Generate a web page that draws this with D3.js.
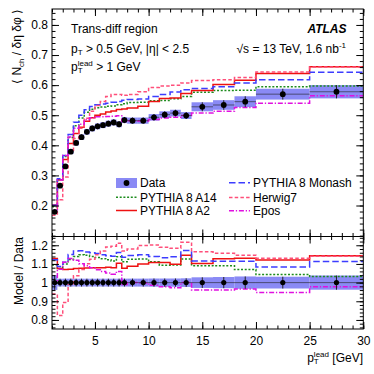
<!DOCTYPE html>
<html><head><meta charset="utf-8">
<script src="https://cdn.jsdelivr.net/npm/d3@7"></script>
<style>
body{margin:0;background:#fff}
text{font-family:"Liberation Sans",Arial,Helvetica,sans-serif;fill:#000}
</style>
</head><body>
<svg id="c" width="374" height="374"></svg>
<script>
// ---------------- data ----------------
const edges = [1,1.5,2,2.5,3,3.5,4,4.5,5,5.5,6,6.5,7,7.5,8,9,10,11,12,13,14,16,18,20,25,30];
const dataVals = [0.179,0.266,0.330,0.379,0.408,0.427,0.445,0.456,0.463,0.467,0.472,0.476,0.470,0.484,0.482,0.482,0.493,0.502,0.507,0.499,0.528,0.534,0.545,0.570,0.578];
const dataErr = [0.007,0.0055,0.007,0.008,0.0085,0.009,0.0093,0.0095,0.0097,0.0098,0.0099,0.0100,0.0099,0.0102,0.0103,0.0103,0.0108,0.0110,0.0112,0.0115,0.015,0.016,0.018,0.018,0.022];
const a14 = [0.196,0.286,0.363,0.426,0.465,0.491,0.510,0.520,0.525,0.527,0.530,0.531,0.535,0.538,0.542,0.543,0.548,0.549,0.555,0.562,0.576,0.582,0.583,0.595,0.597];
const a2 = [0.202,0.286,0.353,0.406,0.439,0.460,0.480,0.492,0.500,0.504,0.511,0.514,0.519,0.521,0.524,0.530,0.546,0.556,0.557,0.572,0.582,0.602,0.616,0.639,0.661];
const monash = [0.201,0.289,0.366,0.436,0.477,0.500,0.518,0.529,0.535,0.537,0.540,0.543,0.546,0.550,0.552,0.554,0.562,0.569,0.577,0.585,0.589,0.595,0.607,0.618,0.643];
const herwig = [0.168,0.219,0.295,0.375,0.423,0.457,0.490,0.513,0.532,0.546,0.562,0.569,0.569,0.566,0.569,0.578,0.592,0.597,0.600,0.607,0.615,0.618,0.625,0.644,0.660];
const epos = [0.179,0.285,0.366,0.428,0.457,0.470,0.485,0.492,0.495,0.495,0.496,0.497,0.498,0.479,0.482,0.481,0.486,0.491,0.493,0.499,0.507,0.513,0.526,0.540,0.565];
const xTicks = [5,10,15,20,25,30];
const yTicksTop = [0.2,0.3,0.4,0.5,0.6,0.7,0.8];
const yTicksRatio = [0.8,0.9,1,1.1,1.2];
const legendLabels = ["Data","PYTHIA 8 A14","PYTHIA 8 A2","PYTHIA 8 Monash","Herwig7","Epos"];

// ---------------- setup ----------------
const svg = d3.select("#c");
const L = 52, R = 363.3, T1 = 9, B1 = 236.5, T2 = 236.5, B2 = 329;
const x = d3.scaleLinear().domain([1,30]).range([L,R]);
const yT = d3.scaleLinear().domain([0.097,0.853]).range([B1,T1]);
const yR = d3.scaleLinear().domain([0.7515,1.247]).range([B2,T2]);

const models = [
  {vals:a14, color:"#1c8c1c", dash:"2,1.7", w:1.5},
  {vals:a2, color:"#ee1111", dash:null, w:1.5},
  {vals:monash, color:"#3d3dff", dash:"6.5,3", w:1.5},
  {vals:herwig, color:"#ff4f7a", dash:"3.5,2.2", w:1.5},
  {vals:epos, color:"#e010e0", dash:"5,1.8,1.3,1.8", w:1.5}
];
const bandColor = "#8a8af5";

const defs = svg.append("defs");
defs.append("clipPath").attr("id","clipT").append("rect").attr("x",L).attr("y",T1).attr("width",R-L).attr("height",B1-T1);
defs.append("clipPath").attr("id","clipR").append("rect").attr("x",L).attr("y",T2).attr("width",R-L).attr("height",B2-T2);

function stepPts(vals){
  const p=[];
  vals.forEach((v,i)=>{p.push([edges[i],v]);p.push([edges[i+1],v]);});
  return p;
}

// ---------------- top panel ----------------
const gT = svg.append("g").attr("clip-path","url(#clipT)");
gT.selectAll("rect.band").data(dataVals).join("rect")
  .attr("x",(d,i)=>x(edges[i])).attr("width",(d,i)=>x(edges[i+1])-x(edges[i]))
  .attr("y",(d,i)=>yT(d+dataErr[i])).attr("height",(d,i)=>yT(d-dataErr[i])-yT(d+dataErr[i]))
  .attr("fill",bandColor);
models.forEach(m=>{
  const line = d3.line().x(d=>x(d[0])).y(d=>yT(d[1]));
  gT.append("path").attr("d",line(stepPts(m.vals))).attr("fill","none")
    .attr("stroke",m.color).attr("stroke-width",m.w).attr("stroke-dasharray",m.dash);
});
gT.selectAll("line.xe").data(dataVals).join("line")
  .attr("x1",(d,i)=>x(edges[i])).attr("x2",(d,i)=>x(edges[i+1]))
  .attr("y1",d=>yT(d)).attr("y2",d=>yT(d)).attr("stroke","#222").attr("stroke-opacity",0.6).attr("stroke-width",1);
gT.selectAll("line.ye").data(dataVals).join("line")
  .attr("x1",(d,i)=>x((edges[i]+edges[i+1])/2)).attr("x2",(d,i)=>x((edges[i]+edges[i+1])/2))
  .attr("y1",(d,i)=>yT(d+dataErr[i])).attr("y2",(d,i)=>yT(d-dataErr[i])).attr("stroke","#222").attr("stroke-width",1);
gT.selectAll("circle").data(dataVals).join("circle")
  .attr("cx",(d,i)=>x((edges[i]+edges[i+1])/2)).attr("cy",d=>yT(d)).attr("r",2.9).attr("fill","#000");

// ---------------- ratio panel ----------------
const gR = svg.append("g").attr("clip-path","url(#clipR)");
gR.selectAll("rect.band").data(dataVals).join("rect")
  .attr("x",(d,i)=>x(edges[i])).attr("width",(d,i)=>x(edges[i+1])-x(edges[i]))
  .attr("y",(d,i)=>yR(1+dataErr[i]/d)).attr("height",(d,i)=>yR(1-dataErr[i]/d)-yR(1+dataErr[i]/d))
  .attr("fill",bandColor);
models.forEach(m=>{
  const line = d3.line().x(d=>x(d[0])).y(d=>yR(d[1]));
  const pts = stepPts(m.vals.map((v,i)=>v/dataVals[i]));
  gR.append("path").attr("d",line(pts)).attr("fill","none")
    .attr("stroke",m.color).attr("stroke-width",m.w).attr("stroke-dasharray",m.dash);
});
gR.append("line").attr("x1",x(1)).attr("x2",x(30)).attr("y1",yR(1)).attr("y2",yR(1))
  .attr("stroke","#222").attr("stroke-opacity",0.6).attr("stroke-width",1);
gR.selectAll("line.ye").data(dataVals).join("line")
  .attr("x1",(d,i)=>x((edges[i]+edges[i+1])/2)).attr("x2",(d,i)=>x((edges[i]+edges[i+1])/2))
  .attr("y1",(d,i)=>yR(1+dataErr[i]/d)).attr("y2",(d,i)=>yR(1-dataErr[i]/d)).attr("stroke","#222").attr("stroke-width",1);
gR.selectAll("circle").data(dataVals).join("circle")
  .attr("cx",(d,i)=>x((edges[i]+edges[i+1])/2)).attr("cy",yR(1)).attr("r",2.6).attr("fill","#000");

// ---------------- axes ----------------
const minorX = d3.range(1,31,1);
const minorYT = d3.range(0.1,0.86,0.02).map(v=>+v.toFixed(2));
const minorYR = d3.range(0.76,1.25,0.02).map(v=>+v.toFixed(2));
function styleAxis(g){g.select(".domain").remove();g.selectAll("line").attr("stroke","#000");g.selectAll("text").style("font-size","12px").attr("font-family","Liberation Sans, Arial, sans-serif");}
function addAxis(axisFn, scale, ticks, size, labels, tx, ty, fmt){
  const a = axisFn(scale).tickValues(ticks).tickSize(-size).tickPadding(labels?4:0);
  if(!labels) a.tickFormat("");
  else if(fmt) a.tickFormat(fmt);
  const g = svg.append("g").attr("transform",`translate(${tx},${ty})`).call(a);
  styleAxis(g);
  return g;
}
addAxis(d3.axisBottom, x, minorX, 3.5, false, 0, B1);
addAxis(d3.axisBottom, x, xTicks, 7, false, 0, B1);
addAxis(d3.axisTop, x, minorX, 3.5, false, 0, T1);
addAxis(d3.axisTop, x, xTicks, 7, false, 0, T1);
addAxis(d3.axisLeft, yT, minorYT, 3.5, false, L, 0);
addAxis(d3.axisLeft, yT, yTicksTop, 7, true, L, 0, d3.format(".1f"));
addAxis(d3.axisRight, yT, minorYT, 3.5, false, R, 0);
addAxis(d3.axisRight, yT, yTicksTop, 7, false, R, 0);
addAxis(d3.axisBottom, x, minorX, 3.5, false, 0, B2);
const gxb = addAxis(d3.axisBottom, x, xTicks, 7, true, 0, B2, d3.format("d"));
gxb.selectAll("text").attr("dy","0.71em").attr("y",7);
addAxis(d3.axisTop, x, minorX, 3.5, false, 0, T2);
addAxis(d3.axisTop, x, xTicks, 7, false, 0, T2);
addAxis(d3.axisLeft, yR, minorYR, 3.5, false, L, 0);
addAxis(d3.axisLeft, yR, yTicksRatio, 7, true, L, 0, d=>d===1?"1":d3.format(".1f")(d));
addAxis(d3.axisRight, yR, minorYR, 3.5, false, R, 0);
addAxis(d3.axisRight, yR, yTicksRatio, 7, false, R, 0);
svg.append("rect").attr("x",L).attr("y",T1).attr("width",R-L).attr("height",B1-T1).attr("fill","none").attr("stroke","#000").attr("stroke-width",1);
svg.append("rect").attr("x",L).attr("y",T2).attr("width",R-L).attr("height",B2-T2).attr("fill","none").attr("stroke","#000").attr("stroke-width",1);

// ---------------- rich text helper ----------------
function rich(parent, px, py, parts, anchor, rotate, size){
  size = size||12;
  const g = parent.append("g").attr("transform",`translate(${px},${py})${rotate?" rotate(-90)":""}`);
  const inner = g.append("g");
  let cx = 0;
  parts.forEach(p=>{
    if(p.sub || p.sup){
      let w = 0;
      if(p.sub){
        const t = inner.append("text").attr("x",cx).attr("y",2.8).style("font-size","8px").text(p.sub);
        w = Math.max(w,t.node().getComputedTextLength());
      }
      if(p.sup){
        const t = inner.append("text").attr("x",cx).attr("y",-5).style("font-size","8px").text(p.sup);
        w = Math.max(w,t.node().getComputedTextLength());
      }
      cx += w;
    } else {
      const t = inner.append("text").attr("x",cx).attr("y",0).style("font-size",size+"px")
        .style("font-weight",p.bold?"bold":null).style("font-style",p.italic?"italic":null)
        .attr("xml:space","preserve").text(p.t);
      cx += t.node().getComputedTextLength();
    }
  });
  if(anchor==="end") inner.attr("transform",`translate(${-cx},0)`);
  if(anchor==="middle") inner.attr("transform",`translate(${-cx/2},0)`);
  return g;
}

rich(svg, 21, T1, [{t:"⟨ N"},{sub:"ch"},{t:" / δη δφ ⟩"}], "end", true);
rich(svg, 23, 237, [{t:"Model / Data"}], "end", true);
rich(svg, 363, 361.5, [{t:"p"},{sub:"T",sup:"lead"},{t:" [GeV]"}], "end", false);

rich(svg, 71, 33, [{t:"Trans-diff region"}]);
rich(svg, 71, 52.5, [{t:"p"},{sub:"T"},{t:" > 0.5 GeV, |η| < 2.5"}]);
rich(svg, 71, 70.5, [{t:"p"},{sub:"T",sup:"lead"},{t:" > 1 GeV"}]);
rich(svg, 346.5, 33, [{t:"ATLAS",bold:true,italic:true}], "end");
rich(svg, 346, 52.5, [{t:"√s = 13 TeV, 1.6 nb"},{sup:"-1"}], "end");

// ---------------- legend ----------------
const leg = svg.append("g");
const rows = [
  {label:legendLabels[0], x:116, y:183, type:"data"},
  {label:legendLabels[1], x:116, y:197.3, m:models[0]},
  {label:legendLabels[2], x:116, y:210.5, m:models[1]},
  {label:legendLabels[3], x:229, y:182.7, m:models[2]},
  {label:legendLabels[4], x:229, y:197.5, m:models[3]},
  {label:legendLabels[5], x:229, y:210.7, m:models[4]}
];
rows.forEach(r=>{
  if(r.type==="data"){
    leg.append("rect").attr("x",r.x).attr("y",r.y-5).attr("width",21).attr("height",10).attr("fill",bandColor);
    leg.append("circle").attr("cx",r.x+10.5).attr("cy",r.y).attr("r",2.9).attr("fill","#000");
  } else {
    leg.append("line").attr("x1",r.x).attr("x2",r.x+21).attr("y1",r.y).attr("y2",r.y)
      .attr("stroke",r.m.color).attr("stroke-width",r.m.w).attr("stroke-dasharray",r.m.dash);
  }
  leg.append("text").attr("x",r.x+24).attr("y",r.y+4.3).style("font-size","12px").text(r.label);
});
</script>
</body></html>
